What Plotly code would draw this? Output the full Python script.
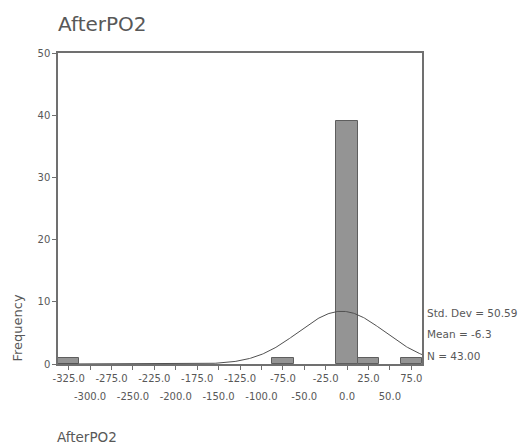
import numpy as np
import plotly.graph_objects as go

# Data
bin_centers = [-325, -75, 0, 25, 75]
counts = [1, 1, 39, 1, 1]
bin_width = 25
stat_mean = -6.3
stat_sd = 50.59
stat_n = 43

odd_ticks = [-325, -275, -225, -175, -125, -75, -25, 25, 75]
even_ticks = [-300, -250, -200, -150, -100, -50, 0, 50]
y_ticks = [0, 10, 20, 30, 40, 50]

FONT = "DejaVu Sans"
TXT = "#585858"
AX = "#707070"

xr = [-337.5, 87.5]
xs = np.linspace(xr[0], xr[1], 400)
ys = stat_n * bin_width / (stat_sd * np.sqrt(2 * np.pi)) * np.exp(-0.5 * ((xs - stat_mean) / stat_sd) ** 2)

fig = go.Figure()
fig.add_trace(go.Bar(x=bin_centers, y=counts, width=bin_width,
                     marker=dict(color="#949494", line=dict(color="#5e5e5e", width=1)),
                     showlegend=False, hoverinfo="skip"))
fig.add_trace(go.Scatter(x=xs, y=ys, mode="lines", line=dict(color="#505050", width=1),
                         showlegend=False, hoverinfo="skip"))
fig.add_trace(go.Scatter(x=[even_ticks[0]], y=[0], xaxis="x2", mode="markers",
                         marker=dict(opacity=0), showlegend=False, hoverinfo="skip"))

all_ticks = sorted(odd_ticks + even_ticks)
fig.update_layout(
    width=520, height=444,
    margin=dict(l=58, r=98, t=53, b=80),
    paper_bgcolor="white", plot_bgcolor="white",
    font=dict(family=FONT, color=TXT, size=10),
    bargap=0,
    xaxis=dict(range=xr, tickvals=all_ticks,
               ticktext=[f"{v:.1f}" if v in odd_ticks else "" for v in all_ticks],
               ticks="outside", ticklen=4, tickcolor=AX, showline=True, linecolor=AX,
               linewidth=1.5, mirror=True, showgrid=False, zeroline=False,
               tickfont=dict(size=10, color=TXT)),
    xaxis2=dict(range=xr, overlaying="x", side="bottom", tickvals=even_ticks,
                ticktext=[f"{v:.1f}" for v in even_ticks], ticks="", showline=False,
                showgrid=False, zeroline=False, ticklabelstandoff=25,
                tickfont=dict(size=10, color=TXT)),
    yaxis=dict(range=[0, 50], tickvals=y_ticks, ticktext=[str(v) for v in y_ticks],
               ticks="outside", ticklen=4, tickcolor=AX, showline=True, linecolor=AX,
               linewidth=1.5, mirror=True, showgrid=False, zeroline=False,
               tickfont=dict(size=10, color=TXT)),
    annotations=[
        dict(text="AfterPO2", x=0, y=1.0, xref="paper", yref="paper", xanchor="left",
             yanchor="bottom", yshift=15, xshift=-2, showarrow=False, font=dict(size=20, color=TXT)),
        dict(text="Frequency", x=0, y=0, xref="paper", yref="paper", xanchor="center",
             yanchor="bottom", xshift=-41, textangle=-90, showarrow=False,
             font=dict(size=13, color=TXT)),
        dict(text="AfterPO2", x=0, y=0, xref="paper", yref="paper", xanchor="left",
             yanchor="top", yshift=-63, xshift=-3, showarrow=False, font=dict(size=13.5, color=TXT)),
        dict(text=f"Std. Dev = {stat_sd:.2f}", x=1, y=8.2, xref="paper", yref="y",
             xanchor="left", yanchor="middle", xshift=3, showarrow=False, font=dict(size=10.5, color=TXT)),
        dict(text=f"Mean = {stat_mean}", x=1, y=4.8, xref="paper", yref="y",
             xanchor="left", yanchor="middle", xshift=3, showarrow=False, font=dict(size=10.5, color=TXT)),
        dict(text=f"N = {stat_n:.2f}", x=1, y=1.3, xref="paper", yref="y",
             xanchor="left", yanchor="middle", xshift=3, showarrow=False, font=dict(size=10.5, color=TXT)),
    ],
)

fig.write_html("out.html")
